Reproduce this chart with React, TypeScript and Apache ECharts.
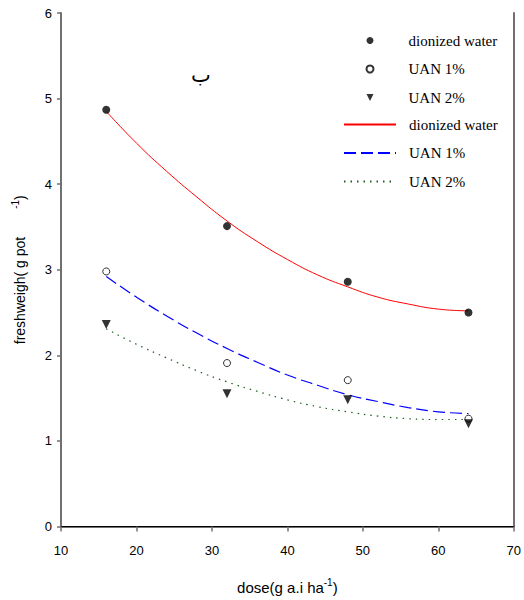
import React, { useEffect, useRef } from "react";
import * as echarts from "echarts";

const dose = [16, 32, 48, 64];
const water = [4.87, 3.51, 2.86, 2.5];
const uan1 = [2.98, 1.91, 1.71, 1.26];
const uan2 = [2.36, 1.55, 1.48, 1.2];

const fitDose = [16, 20, 24, 28, 32, 36, 40, 44, 48, 52, 56, 60, 64];
const fitWater = [4.85, 4.48, 4.15, 3.85, 3.57, 3.33, 3.12, 2.94, 2.8, 2.68, 2.6, 2.54, 2.52];
const fitUan1 = [2.92, 2.68, 2.46, 2.26, 2.08, 1.92, 1.77, 1.65, 1.54, 1.46, 1.39, 1.34, 1.32];
const fitUan2 = [2.31, 2.13, 1.97, 1.82, 1.69, 1.58, 1.48, 1.4, 1.34, 1.29, 1.26, 1.25, 1.25];

const xTicks = { min: 10, max: 70, interval: 10 };
const yTicks = { min: 0, max: 6, interval: 1 };

const pairs = (xs: number[], ys: number[]) => xs.map((x, i) => [x, ys[i]]);

export default function App() {
  const ref = useRef<HTMLDivElement>(null);
  useEffect(() => {
    if (!ref.current) return;
    const chart = echarts.init(ref.current, undefined, { renderer: "svg" });
    const tri = "path://M0,0L10,0L5,10Z";
    const legendText = (pad: number) => ({
      fontFamily: "Liberation Serif",
      fontSize: 15,
      color: "#000",
      lineHeight: 14,
      padding: [0, 0, 0, pad],
    });
    chart.setOption({
      animation: false,
      backgroundColor: "#fff",
      grid: { left: 61, right: 8, top: 13, bottom: 70 },
      legend: [
        {
          data: ["dionized water", "UAN 1%", "UAN 2%"],
          orient: "vertical",
          padding: 0,
          left: 365.5,
          top: 33,
          itemWidth: 7,
          itemHeight: 7,
          itemGap: 13.5,
          textStyle: legendText(30),
        },
        {
          data: ["dionized water fit", "UAN 1% fit", "UAN 2% fit"],
          orient: "vertical",
          padding: 0,
          left: 343,
          top: 117,
          itemWidth: 52,
          itemHeight: 14,
          itemGap: 13.5,
          itemStyle: { opacity: 0 },
          textStyle: legendText(8),
          formatter: (n: string) => n.replace(" fit", ""),
        },
      ],
      xAxis: [
        {
          type: "value",
          ...xTicks,
          name: "{a|dose(g a.i ha}{b|-1}{a|)}",
          nameLocation: "middle",
          nameGap: 51,
          nameTextStyle: {
            rich: {
              a: { fontFamily: "Liberation Sans", fontSize: 15, color: "#000", lineHeight: 20 },
              b: { fontFamily: "Liberation Sans", fontSize: 10, color: "#000", verticalAlign: "top", lineHeight: 20 },
            },
          },
          axisLine: { lineStyle: { color: "#707070", width: 2 } },
          axisTick: { show: true, length: 5, lineStyle: { color: "#707070", width: 1.5 } },
          axisLabel: { margin: 17, fontFamily: "Liberation Sans", fontSize: 13, color: "#000" },
          splitLine: { show: false },
        },
        {
          type: "value",
          ...xTicks,
          position: "top",
          axisLine: { show: true, lineStyle: { color: "#000", width: 1 } },
          axisTick: { show: false },
          axisLabel: { show: false },
          splitLine: { show: false },
        },
      ],
      yAxis: [
        {
          type: "value",
          ...yTicks,
          name: "{a|freshweigh( g pot}{c|}{b|-1}{a|)}",
          nameLocation: "middle",
          nameGap: 31,
          nameRotate: 90,
          nameTextStyle: {
            rich: {
              a: { fontFamily: "Liberation Sans", fontSize: 14, color: "#000", lineHeight: 20 },
              b: { fontFamily: "Liberation Sans", fontSize: 10, color: "#000", verticalAlign: "top", lineHeight: 20 },
              c: { width: 28 },
            },
          },
          axisLine: { show: true, lineStyle: { color: "#707070", width: 2 } },
          axisTick: { show: true, length: 4, lineStyle: { color: "#707070", width: 1.5 } },
          axisLabel: { margin: 9, fontFamily: "Liberation Sans", fontSize: 13, color: "#000" },
          splitLine: { show: false },
        },
        {
          type: "value",
          ...yTicks,
          position: "right",
          axisLine: { show: true, lineStyle: { color: "#707070", width: 2 } },
          axisTick: { show: false },
          axisLabel: { show: false },
          splitLine: { show: false },
        },
      ],
      graphic: [
        {
          type: "text",
          left: 191,
          top: 64,
          style: { text: "ب", fontFamily: "DejaVu Sans", fontSize: 21, fill: "#000" },
        },
      ],
      series: [
        {
          name: "dionized water fit",
          type: "line",
          data: pairs(fitDose, fitWater),
          smooth: true,
          symbol: "none",
          lineStyle: { color: "#ff0000", width: 1 },
          itemStyle: { color: "#ff0000" },
          z: 2,
        },
        {
          name: "UAN 1% fit",
          type: "line",
          data: pairs(fitDose, fitUan1),
          smooth: true,
          symbol: "none",
          lineStyle: { color: "#0000ff", width: 1.2, type: [12, 5] },
          itemStyle: { color: "#0000ff" },
          z: 2,
        },
        {
          name: "UAN 2% fit",
          type: "line",
          data: pairs(fitDose, fitUan2),
          smooth: true,
          symbol: "none",
          lineStyle: { color: "#1f5f1f", width: 1.2, type: [1.5, 5] },
          itemStyle: { color: "#1f5f1f" },
          z: 2,
        },
        {
          name: "dionized water",
          type: "scatter",
          data: pairs(dose, water),
          symbol: "circle",
          symbolSize: 8,
          itemStyle: { color: "#000" },
          z: 3,
        },
        {
          name: "UAN 1%",
          type: "scatter",
          data: pairs(dose, uan1),
          symbol: "circle",
          symbolSize: 7,
          itemStyle: { color: "#fff", borderColor: "#000", borderWidth: 1 },
          z: 3,
        },
        {
          name: "UAN 2%",
          type: "scatter",
          data: pairs(dose, uan2),
          symbol: tri,
          symbolSize: 9,
          itemStyle: { color: "#000" },
          z: 3,
        },
      ],
    });
    return () => chart.dispose();
  }, []);
  return <div ref={ref} style={{ width: 524, height: 600, position: "absolute", left: 0, top: 0 }} />;
}
